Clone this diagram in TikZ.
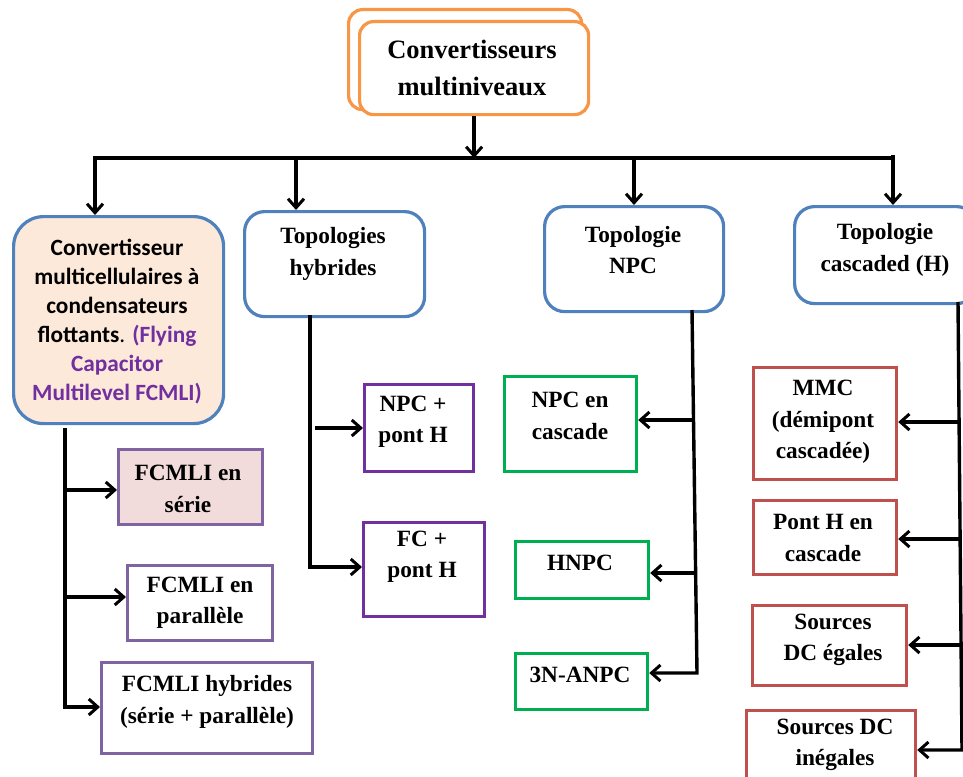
\documentclass[tikz,border=0pt]{standalone}
\usepackage{fontspec}
\setmainfont{Liberation Serif}
\newfontfamily\calib{Carlito}
\usetikzlibrary{arrows.meta}
\definecolor{orng}{HTML}{F79646}
\definecolor{blu}{HTML}{4F81BD}
\definecolor{purp}{HTML}{7030A0}
\definecolor{lav}{HTML}{8064A2}
\definecolor{grn}{HTML}{00B050}
\definecolor{rd}{HTML}{C0504D}
\definecolor{peach}{HTML}{FDE9D9}
\definecolor{pinkf}{HTML}{F2DCDB}
\begin{document}
\begin{tikzpicture}[x=1pt,y=-1pt,
  box/.style={draw, line width=3.2pt, inner sep=0pt, anchor=north west, fill=white},
  txt/.style={font=\fontsize{23.3}{31.5}\selectfont\bfseries, align=center, inner sep=0pt},
  arr/.style={line width=3.4pt, line join=miter, -{Straight Barb[length=9pt,width=16pt,line width=3pt]}}]
\clip (0,0) rectangle (963,776);
\fill[white] (0,0) rectangle (963,776);
% top boxes
\node[box, draw=orng, rounded corners=14pt, minimum width=233pt, minimum height=100pt] (tb) at (347,8) {};
\node[box, draw=orng, rounded corners=14pt, minimum width=229pt, minimum height=93pt] (tf) at (358,20) {};
\node[txt, font=\fontsize{26.5}{37}\selectfont\bfseries] (tt) at (472,67.5) {Convertisseurs\\multiniveaux};
% level 1
\node[box, draw=blu, fill=peach, rounded corners=30pt, minimum width=210pt, minimum height=207pt] (lb) at (12,215) {};
\node[txt, font=\fontsize{23.3}{29}\selectfont\calib\bfseries] (lbt) at (117,322) {Convertisseur\\multicellulaires à\\condensateurs\\flottants{\mdseries.} \textcolor{purp}{(Flying}\\\textcolor{purp}{Capacitor}\\\textcolor{purp}{Multilevel FCMLI)}};
\node[box, draw=blu, rounded corners=20pt, minimum width=180pt, minimum height=105pt] (hy) at (243,210) {};
\node[txt] (hyt) at (333,254) {Topologies\\hybrides};
\node[box, draw=blu, rounded corners=20pt, minimum width=179pt, minimum height=105pt] (np) at (543,205) {};
\node[txt] (npt) at (633,250) {Topologie\\NPC};
\node[box, draw=blu, rounded corners=20pt, minimum width=182pt, minimum height=97pt] (cs) at (793,205) {};
\node[txt] (cst) at (885,250) {Topologie\\cascaded (H)};
% FCMLI
\node[box, draw=lav, fill=pinkf, minimum width=144pt, minimum height=75pt] (s1) at (117,448) {};
\node[txt] (s1t) at (188,489) {FCMLI en\\série};
\node[box, draw=lav, minimum width=145pt, minimum height=75pt] (s2) at (126,564) {};
\node[txt] (s2t) at (200,603) {FCMLI en\\parallèle};
\node[box, draw=lav, minimum width=211pt, minimum height=91pt] (s3) at (100,661) {};
\node[txt] (s3t) at (207,702) {FCMLI hybrides\\(série + parallèle)};
% hybrides
\node[box, draw=purp, minimum width=109pt, minimum height=87pt] (h1) at (363,383) {};
\node[txt] (h1t) at (413,422) {NPC +\\pont H};
\node[box, draw=purp, minimum width=121pt, minimum height=94pt] (h2) at (362,521) {};
\node[txt] (h2t) at (422,557) {FC +\\pont H};
% NPC
\node[box, draw=grn, minimum width=132pt, minimum height=95pt] (n1) at (503,375) {};
\node[txt] (n1t) at (570,416) {NPC en\\cascade};
\node[box, draw=grn, minimum width=133pt, minimum height=57pt] (n2) at (514,540) {};
\node[txt] (n2t) at (580,563) {HNPC};
\node[box, draw=grn, minimum width=132pt, minimum height=56pt] (n3) at (514,652) {};
\node[txt] (n3t) at (580,675) {3N-ANPC};
% cascade
\node[box, draw=rd, minimum width=143pt, minimum height=112pt] (c1) at (752,366) {};
\node[txt] (c1t) at (823,422) {MMC\\(démipont\\cascadée)};
\node[box, draw=rd, minimum width=143pt, minimum height=74pt] (c2) at (752,499) {};
\node[txt] (c2t) at (823,538) {Pont H en\\cascade};
\node[box, draw=rd, minimum width=154pt, minimum height=80pt] (c3) at (751,604) {};
\node[txt] (c3t) at (833,640) {Sources\\DC égales};
\node[box, draw=rd, minimum width=169pt, minimum height=90pt] (c4) at (745,709) {};
\node[txt] (c4t) at (835,745) {Sources DC\\inégales};
% connectors top
\coordinate (barL) at (95,158);
\coordinate (barR) at (893,158);
\coordinate (bh) at (296,158);
\coordinate (bn) at (634,158);
\draw[arr] (tf.south) -- (tf.south |- barL);
\draw[arr] (barR) -- (barL) -- (barL |- lb.north);
\draw[arr] (bh) -- (bh |- hy.north);
\draw[arr] (bn) -- (bn |- np.north);
\draw[arr] ([yshift=3pt]barR) -- (barR |- cs.north);
% left branch
\coordinate (l0) at (65,428);
\coordinate (l1) at (65,490);
\coordinate (l2) at (65,597);
\coordinate (l3) at (65,707);
\draw[arr] (l0) -- (l3) -- (l3 -| s3.west);
\draw[arr] (l1) -- (l1 -| s1.west);
\draw[arr] (l2) -- (l2 -| s2.west);
% hybrides branch
\coordinate (h0) at (310,315);
\coordinate (hA) at (315,428);
\coordinate (hB) at (310,567);
\draw[arr] (h0) -- (hB) -- (hB -| h2.west);
\draw[arr] (hA) -- (hA -| h1.west);
% NPC branch
\coordinate (p0) at (692,310);
\coordinate (p1) at (693.5,420);
\coordinate (p2) at (695.6,573);
\coordinate (p3) at (697,673);
\draw[arr] (p0) -- (p3) -- (p3 -| n3.east);
\draw[arr] (p1) -- (p1 -| n1.east);
\draw[arr] (p2) -- (p2 -| n2.east);
% cascade branch
\coordinate (q0) at (958,302);
\coordinate (q1) at (959,422);
\coordinate (q2) at (960,539);
\coordinate (q3) at (961,645);
\coordinate (q4) at (962,750);
\draw[arr] (q0) -- (q4) -- (q4 -| c4.east);
\draw[arr] (q1) -- (q1 -| c1.east);
\draw[arr] (q2) -- (q2 -| c2.east);
\draw[arr] (q3) -- (q3 -| c3.east);
\end{tikzpicture}
\end{document}
